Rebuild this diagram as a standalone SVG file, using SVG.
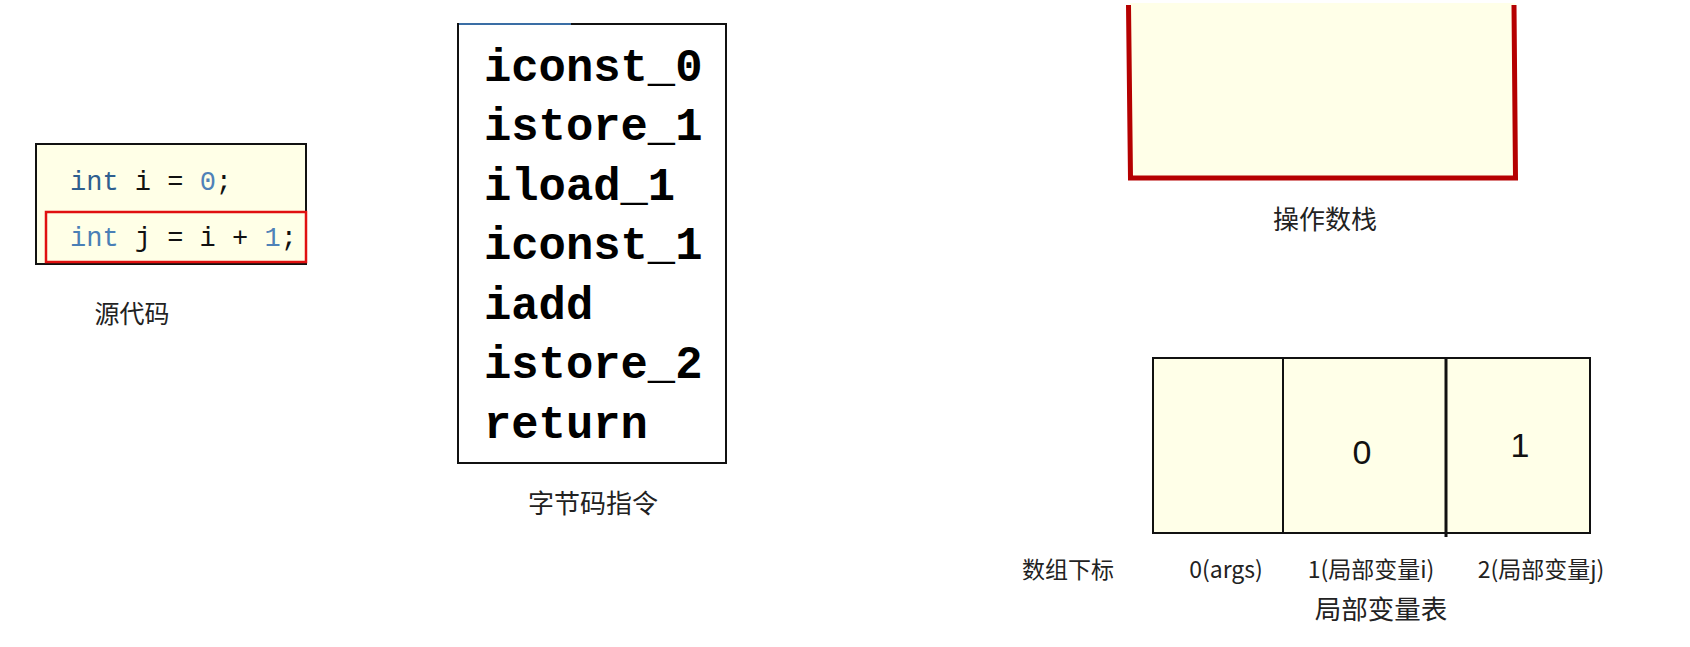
<svg xmlns="http://www.w3.org/2000/svg" width="1690" height="647" viewBox="0 0 1690 647">
<style>
.lbl{font-family:"Noto Sans CJK SC","Noto Sans",sans-serif;fill:#222;}
.code{font-family:"Liberation Mono","DejaVu Sans Mono",monospace;font-size:27px;fill:#111;}
.kw{fill:#2F5F8F;}
.num{fill:#4F82B8;}
.bc{font-family:"Liberation Mono","DejaVu Sans Mono",monospace;font-size:45.5px;font-weight:bold;fill:#000;}
.cell{fill:#FFFFE8;stroke:#111;stroke-width:2;}
.val{font-family:"Liberation Sans","Noto Sans",sans-serif;font-size:34px;fill:#111;text-anchor:middle;}
</style>
<rect width="1690" height="647" fill="#ffffff"/>

<g id="source-code">
<rect x="36" y="144" width="270" height="120" fill="#FFFFE7" stroke="#111" stroke-width="2"/>
<rect x="46" y="212" width="260" height="50" fill="none" stroke="#E01010" stroke-width="2.5"/>
<text class="code" x="70" y="190"><tspan class="kw">int</tspan> i = <tspan class="num">0</tspan>;</text>
<text class="code" x="70" y="246"><tspan class="kw" style="fill:#4A7FB6">int</tspan> j = i + <tspan class="num">1</tspan>;</text>
<text class="lbl" x="132" y="323" font-size="25" text-anchor="middle">源代码</text>
</g>

<g id="bytecode">
<rect x="458" y="24" width="268" height="439" fill="#ffffff" stroke="#111" stroke-width="2"/>
<line x1="459" y1="24" x2="571" y2="24" stroke="#3A6EA5" stroke-width="2"/>
<text class="bc" x="484" y="81">iconst_0</text>
<text class="bc" x="484" y="140">istore_1</text>
<text class="bc" x="484" y="200">iload_1</text>
<text class="bc" x="484" y="259">iconst_1</text>
<text class="bc" x="484" y="319">iadd</text>
<text class="bc" x="484" y="378">istore_2</text>
<text class="bc" x="484" y="438">return</text>
<text class="lbl" x="593" y="513" font-size="26" text-anchor="middle">字节码指令</text>
</g>

<g id="operand-stack">
<rect x="1130" y="3" width="386" height="174" fill="#FFFFE8"/>
<path d="M1128.5 5 L1130.5 178 L1515.5 178 L1514 5" fill="none" stroke="#B50000" stroke-width="5"/>
<text class="lbl" x="1325" y="229" font-size="26" text-anchor="middle">操作数栈</text>
</g>

<g id="local-variable-table">
<rect class="cell" x="1153" y="358" width="130" height="175"/>
<rect class="cell" x="1283" y="358" width="163" height="175"/>
<rect class="cell" x="1446" y="358" width="144" height="175"/>
<line x1="1446" y1="358" x2="1446" y2="537" stroke="#111" stroke-width="3"/>
<text class="val" x="1362" y="464">0</text>
<text class="val" x="1520" y="457">1</text>
<text class="lbl" x="1068" y="578" font-size="23" text-anchor="middle">数组下标</text>
<text class="lbl" x="1226" y="578" font-size="23" text-anchor="middle">0(args)</text>
<text class="lbl" x="1371" y="578" font-size="23" text-anchor="middle">1(局部变量i)</text>
<text class="lbl" x="1541" y="578" font-size="23" text-anchor="middle">2(局部变量j)</text>
<text class="lbl" x="1381" y="619" font-size="26.5" text-anchor="middle">局部变量表</text>
</g>

<g id="connectors"></g>
</svg>
